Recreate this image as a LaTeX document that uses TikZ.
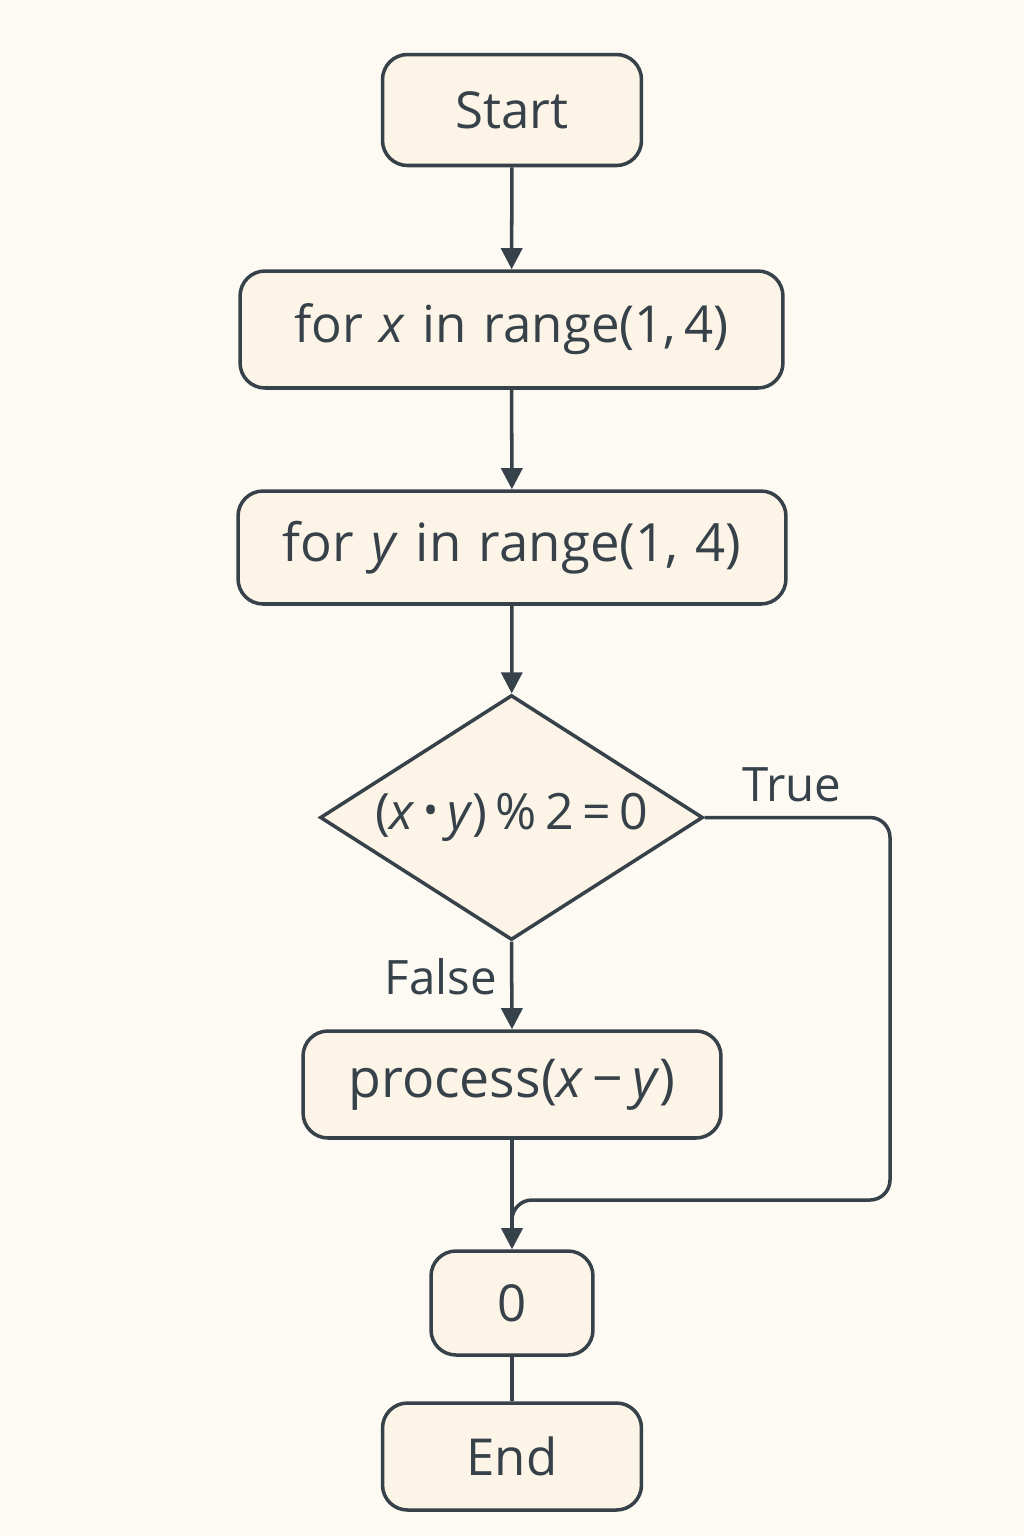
\documentclass[tikz,border=0pt]{standalone}
\usepackage{fontspec}
\setmainfont{Open Sans}
\usetikzlibrary{shapes.geometric,arrows.meta}
\definecolor{bg}{RGB}{253,250,244}
\definecolor{boxfill}{RGB}{252,244,230}
\definecolor{ink}{RGB}{54,65,73}
\begin{document}
\begin{tikzpicture}[x=0.02cm,y=-0.02cm,
  every node/.style={text=ink,font=\fontsize{29}{34}\selectfont},
  box/.style={draw=ink,fill=boxfill,line width=2pt,rounded corners=0.5cm,inner sep=0pt},
  dec/.style={draw=ink,fill=boxfill,line width=2pt,shape=diamond,inner sep=0pt,minimum width=7.66cm,minimum height=4.9cm},
  conn/.style={draw=ink,line width=2pt},
  arr/.style={conn,-{Triangle[length=12pt,width=12pt]}},
  lbl/.style={font=\fontsize{27}{32}\selectfont}]
\fill[bg] (0,0) rectangle (1024,1536);
\useasboundingbox (0,0) rectangle (1024,1536);
\node[box,minimum width=5.18cm,minimum height=2.22cm] (start) at (512,110) {Start};
\node[box,minimum width=10.86cm,minimum height=2.34cm] (forx) at (511.5,329.5) {for\,\,\textit{x}\,\,in\,\,range(1,\,4)};
\node[box,minimum width=10.96cm,minimum height=2.26cm] (fory) at (512,547.5) {\fontsize{30}{34}\selectfont for\,\,\textit{y}\,\,in\,\,range(1,\,\,4)};
\node[dec] (cond) at (511.5,817.5) {};
\node[font=\fontsize{28.5}{32}\selectfont] (condt) at (cond.center) {(\textit{x}\,\raisebox{0.1em}{\scalebox{0.8}{•}}\,\textit{y})\,\%\,2\,=\,0};
\node[box,minimum width=8.36cm,minimum height=2.14cm] (proc) at (512,1084.5) {\fontsize{30.5}{34}\selectfont process(\textit{x}\,−\,\textit{y})};
\node[box,minimum width=3.24cm,minimum height=2.08cm] (zero) at (512,1303) {0};
\node[box,minimum width=5.18cm,minimum height=2.14cm] (endn) at (512,1456.5) {End};
\coordinate (tr) at (890,817.5);
\coordinate (br) at (890,1200);
\coordinate (bl) at (512,1200);
\draw[arr] (start) -- (forx);
\draw[arr] (forx) -- (fory);
\draw[arr] (fory) -- (cond);
\draw[arr] (cond.south) -- node[lbl,left,pos=0.4,xshift=-4pt] (flbl) {False} (proc.north);
\draw[arr] (proc) -- (zero);
\draw[conn,rounded corners=0.4cm] (cond.east) -- (tr) -- (br) -- (bl) -- ([yshift=12pt]zero.north);
\node[lbl] (tlbl) at (792,785) {True};
\draw[conn] (zero) -- (endn);
\end{tikzpicture}
\end{document}
